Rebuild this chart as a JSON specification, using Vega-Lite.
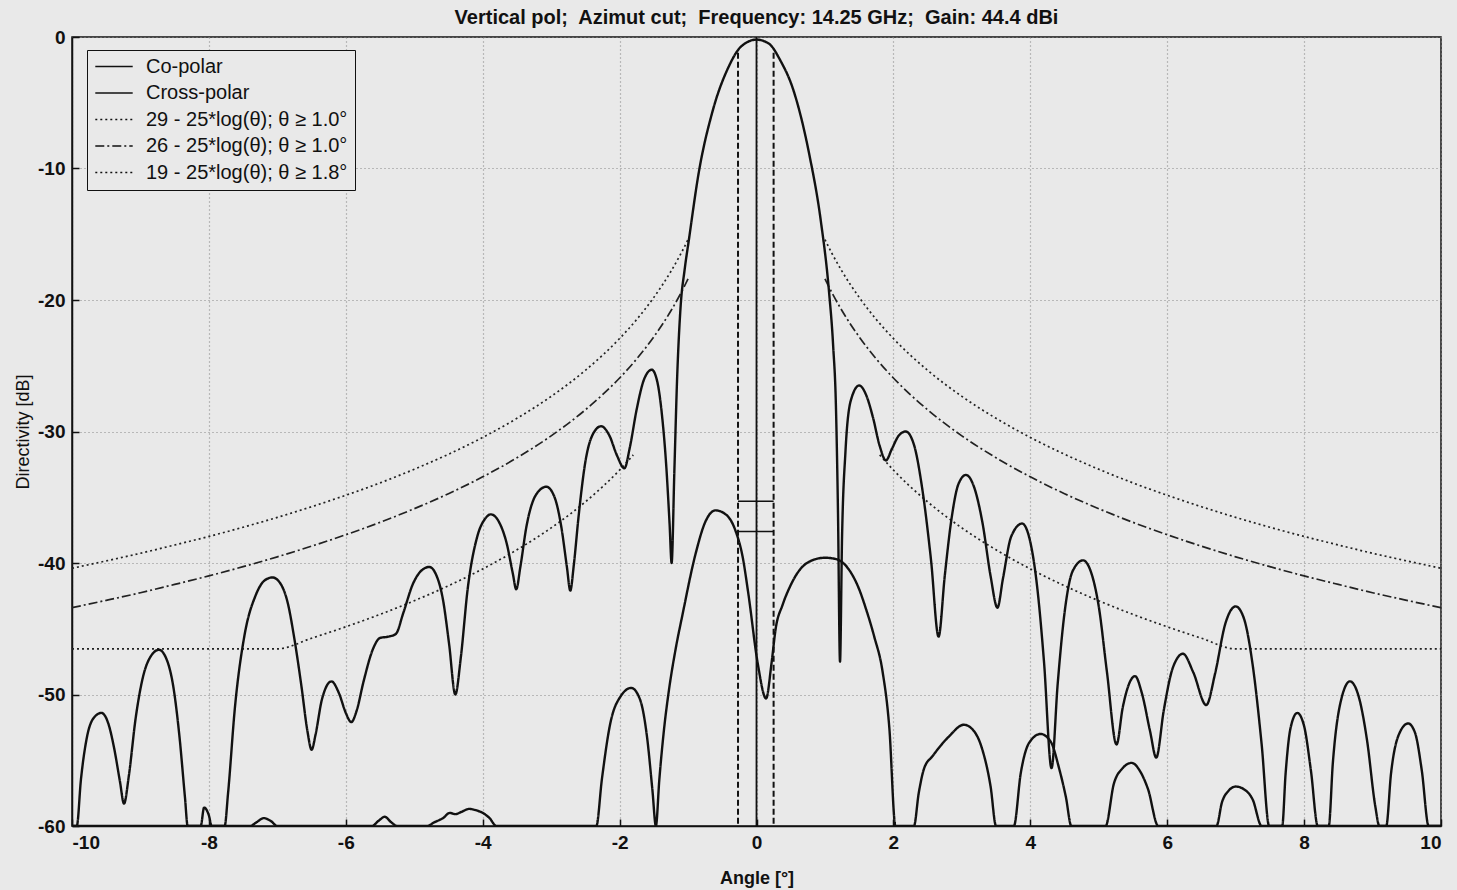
{
  "$schema": "https://vega.github.io/schema/vega-lite/v6.json",
  "width": 1369,
  "height": 789,
  "autosize": "none",
  "padding": {"left": 72, "top": 37, "right": 16, "bottom": 64},
  "background": "#e9e9e9",
  "title": {"text": "Vertical pol;\u00a0 Azimut cut;\u00a0 Frequency: 14.25 GHz;\u00a0 Gain: 44.4 dBi", "font": "Liberation Sans", "fontSize": 20, "fontWeight": "bold", "color": "#111", "offset": 0, "anchor": "middle"},
  "config": {
    "view": {"stroke": "#111", "strokeWidth": 1.5},
    "axis": {"labelFont": "Liberation Sans", "labelFontSize": 19, "labelFontWeight": "bold", "labelColor": "#111", "titleFont": "Liberation Sans", "titleFontSize": 18, "titleFontWeight": "normal", "titleColor": "#111", "domainColor": "#111", "domainWidth": 1.5, "tickColor": "#111", "tickSize": -7, "tickWidth": 1.5, "gridColor": "#888", "gridDash": [1, 3], "gridWidth": 1.2, "labelExpr": "'' + datum.value"}
  },
  "datasets": {
    "markers": [
      {"angle": 0, "top": 0, "bottom": -60, "kind": "solid"},
      {"angle": -0.27, "top": -1.2, "bottom": -60, "kind": "dashed"},
      {"angle": 0.25, "top": -1.2, "bottom": -60, "kind": "dashed"}
    ],
    "levels": [
      {"from": -0.27, "to": 0.25, "level": -35.3},
      {"from": -0.27, "to": 0.25, "level": -37.6}
    ]
  },
  "layer": [
    {
      "data": {"values": [
        {"series": "29 - 25*log(θ); θ ≥ 1.0°", "part": "L", "angle": -10, "dB": -40.4},
        {"series": "29 - 25*log(θ); θ ≥ 1.0°", "part": "L", "angle": -9.5, "dB": -39.84},
        {"series": "29 - 25*log(θ); θ ≥ 1.0°", "part": "L", "angle": -9, "dB": -39.26},
        {"series": "29 - 25*log(θ); θ ≥ 1.0°", "part": "L", "angle": -8.5, "dB": -38.63},
        {"series": "29 - 25*log(θ); θ ≥ 1.0°", "part": "L", "angle": -8, "dB": -37.98},
        {"series": "29 - 25*log(θ); θ ≥ 1.0°", "part": "L", "angle": -7.5, "dB": -37.28},
        {"series": "29 - 25*log(θ); θ ≥ 1.0°", "part": "L", "angle": -7, "dB": -36.53},
        {"series": "29 - 25*log(θ); θ ≥ 1.0°", "part": "L", "angle": -6.5, "dB": -35.72},
        {"series": "29 - 25*log(θ); θ ≥ 1.0°", "part": "L", "angle": -6, "dB": -34.85},
        {"series": "29 - 25*log(θ); θ ≥ 1.0°", "part": "L", "angle": -5.5, "dB": -33.91},
        {"series": "29 - 25*log(θ); θ ≥ 1.0°", "part": "L", "angle": -5, "dB": -32.87},
        {"series": "29 - 25*log(θ); θ ≥ 1.0°", "part": "L", "angle": -4.5, "dB": -31.73},
        {"series": "29 - 25*log(θ); θ ≥ 1.0°", "part": "L", "angle": -4, "dB": -30.45},
        {"series": "29 - 25*log(θ); θ ≥ 1.0°", "part": "L", "angle": -3.5, "dB": -29.0},
        {"series": "29 - 25*log(θ); θ ≥ 1.0°", "part": "L", "angle": -3, "dB": -27.33},
        {"series": "29 - 25*log(θ); θ ≥ 1.0°", "part": "L", "angle": -2.5, "dB": -25.35},
        {"series": "29 - 25*log(θ); θ ≥ 1.0°", "part": "L", "angle": -2, "dB": -22.93},
        {"series": "29 - 25*log(θ); θ ≥ 1.0°", "part": "L", "angle": -1.75, "dB": -21.48},
        {"series": "29 - 25*log(θ); θ ≥ 1.0°", "part": "L", "angle": -1.5, "dB": -19.8},
        {"series": "29 - 25*log(θ); θ ≥ 1.0°", "part": "L", "angle": -1.25, "dB": -17.82},
        {"series": "29 - 25*log(θ); θ ≥ 1.0°", "part": "L", "angle": -1.1, "dB": -16.43},
        {"series": "29 - 25*log(θ); θ ≥ 1.0°", "part": "L", "angle": -1, "dB": -15.4},
        {"series": "29 - 25*log(θ); θ ≥ 1.0°", "part": "R", "angle": 1, "dB": -15.4},
        {"series": "29 - 25*log(θ); θ ≥ 1.0°", "part": "R", "angle": 1.1, "dB": -16.43},
        {"series": "29 - 25*log(θ); θ ≥ 1.0°", "part": "R", "angle": 1.25, "dB": -17.82},
        {"series": "29 - 25*log(θ); θ ≥ 1.0°", "part": "R", "angle": 1.5, "dB": -19.8},
        {"series": "29 - 25*log(θ); θ ≥ 1.0°", "part": "R", "angle": 1.75, "dB": -21.48},
        {"series": "29 - 25*log(θ); θ ≥ 1.0°", "part": "R", "angle": 2, "dB": -22.93},
        {"series": "29 - 25*log(θ); θ ≥ 1.0°", "part": "R", "angle": 2.5, "dB": -25.35},
        {"series": "29 - 25*log(θ); θ ≥ 1.0°", "part": "R", "angle": 3, "dB": -27.33},
        {"series": "29 - 25*log(θ); θ ≥ 1.0°", "part": "R", "angle": 3.5, "dB": -29.0},
        {"series": "29 - 25*log(θ); θ ≥ 1.0°", "part": "R", "angle": 4, "dB": -30.45},
        {"series": "29 - 25*log(θ); θ ≥ 1.0°", "part": "R", "angle": 4.5, "dB": -31.73},
        {"series": "29 - 25*log(θ); θ ≥ 1.0°", "part": "R", "angle": 5, "dB": -32.87},
        {"series": "29 - 25*log(θ); θ ≥ 1.0°", "part": "R", "angle": 5.5, "dB": -33.91},
        {"series": "29 - 25*log(θ); θ ≥ 1.0°", "part": "R", "angle": 6, "dB": -34.85},
        {"series": "29 - 25*log(θ); θ ≥ 1.0°", "part": "R", "angle": 6.5, "dB": -35.72},
        {"series": "29 - 25*log(θ); θ ≥ 1.0°", "part": "R", "angle": 7, "dB": -36.53},
        {"series": "29 - 25*log(θ); θ ≥ 1.0°", "part": "R", "angle": 7.5, "dB": -37.28},
        {"series": "29 - 25*log(θ); θ ≥ 1.0°", "part": "R", "angle": 8, "dB": -37.98},
        {"series": "29 - 25*log(θ); θ ≥ 1.0°", "part": "R", "angle": 8.5, "dB": -38.63},
        {"series": "29 - 25*log(θ); θ ≥ 1.0°", "part": "R", "angle": 9, "dB": -39.26},
        {"series": "29 - 25*log(θ); θ ≥ 1.0°", "part": "R", "angle": 9.5, "dB": -39.84},
        {"series": "29 - 25*log(θ); θ ≥ 1.0°", "part": "R", "angle": 10, "dB": -40.4},
        {"series": "26 - 25*log(θ); θ ≥ 1.0°", "part": "L", "angle": -10, "dB": -43.4},
        {"series": "26 - 25*log(θ); θ ≥ 1.0°", "part": "L", "angle": -9.5, "dB": -42.84},
        {"series": "26 - 25*log(θ); θ ≥ 1.0°", "part": "L", "angle": -9, "dB": -42.26},
        {"series": "26 - 25*log(θ); θ ≥ 1.0°", "part": "L", "angle": -8.5, "dB": -41.63},
        {"series": "26 - 25*log(θ); θ ≥ 1.0°", "part": "L", "angle": -8, "dB": -40.98},
        {"series": "26 - 25*log(θ); θ ≥ 1.0°", "part": "L", "angle": -7.5, "dB": -40.28},
        {"series": "26 - 25*log(θ); θ ≥ 1.0°", "part": "L", "angle": -7, "dB": -39.53},
        {"series": "26 - 25*log(θ); θ ≥ 1.0°", "part": "L", "angle": -6.5, "dB": -38.72},
        {"series": "26 - 25*log(θ); θ ≥ 1.0°", "part": "L", "angle": -6, "dB": -37.85},
        {"series": "26 - 25*log(θ); θ ≥ 1.0°", "part": "L", "angle": -5.5, "dB": -36.91},
        {"series": "26 - 25*log(θ); θ ≥ 1.0°", "part": "L", "angle": -5, "dB": -35.87},
        {"series": "26 - 25*log(θ); θ ≥ 1.0°", "part": "L", "angle": -4.5, "dB": -34.73},
        {"series": "26 - 25*log(θ); θ ≥ 1.0°", "part": "L", "angle": -4, "dB": -33.45},
        {"series": "26 - 25*log(θ); θ ≥ 1.0°", "part": "L", "angle": -3.5, "dB": -32.0},
        {"series": "26 - 25*log(θ); θ ≥ 1.0°", "part": "L", "angle": -3, "dB": -30.33},
        {"series": "26 - 25*log(θ); θ ≥ 1.0°", "part": "L", "angle": -2.5, "dB": -28.35},
        {"series": "26 - 25*log(θ); θ ≥ 1.0°", "part": "L", "angle": -2, "dB": -25.93},
        {"series": "26 - 25*log(θ); θ ≥ 1.0°", "part": "L", "angle": -1.75, "dB": -24.48},
        {"series": "26 - 25*log(θ); θ ≥ 1.0°", "part": "L", "angle": -1.5, "dB": -22.8},
        {"series": "26 - 25*log(θ); θ ≥ 1.0°", "part": "L", "angle": -1.25, "dB": -20.82},
        {"series": "26 - 25*log(θ); θ ≥ 1.0°", "part": "L", "angle": -1.1, "dB": -19.43},
        {"series": "26 - 25*log(θ); θ ≥ 1.0°", "part": "L", "angle": -1, "dB": -18.4},
        {"series": "26 - 25*log(θ); θ ≥ 1.0°", "part": "R", "angle": 1, "dB": -18.4},
        {"series": "26 - 25*log(θ); θ ≥ 1.0°", "part": "R", "angle": 1.1, "dB": -19.43},
        {"series": "26 - 25*log(θ); θ ≥ 1.0°", "part": "R", "angle": 1.25, "dB": -20.82},
        {"series": "26 - 25*log(θ); θ ≥ 1.0°", "part": "R", "angle": 1.5, "dB": -22.8},
        {"series": "26 - 25*log(θ); θ ≥ 1.0°", "part": "R", "angle": 1.75, "dB": -24.48},
        {"series": "26 - 25*log(θ); θ ≥ 1.0°", "part": "R", "angle": 2, "dB": -25.93},
        {"series": "26 - 25*log(θ); θ ≥ 1.0°", "part": "R", "angle": 2.5, "dB": -28.35},
        {"series": "26 - 25*log(θ); θ ≥ 1.0°", "part": "R", "angle": 3, "dB": -30.33},
        {"series": "26 - 25*log(θ); θ ≥ 1.0°", "part": "R", "angle": 3.5, "dB": -32.0},
        {"series": "26 - 25*log(θ); θ ≥ 1.0°", "part": "R", "angle": 4, "dB": -33.45},
        {"series": "26 - 25*log(θ); θ ≥ 1.0°", "part": "R", "angle": 4.5, "dB": -34.73},
        {"series": "26 - 25*log(θ); θ ≥ 1.0°", "part": "R", "angle": 5, "dB": -35.87},
        {"series": "26 - 25*log(θ); θ ≥ 1.0°", "part": "R", "angle": 5.5, "dB": -36.91},
        {"series": "26 - 25*log(θ); θ ≥ 1.0°", "part": "R", "angle": 6, "dB": -37.85},
        {"series": "26 - 25*log(θ); θ ≥ 1.0°", "part": "R", "angle": 6.5, "dB": -38.72},
        {"series": "26 - 25*log(θ); θ ≥ 1.0°", "part": "R", "angle": 7, "dB": -39.53},
        {"series": "26 - 25*log(θ); θ ≥ 1.0°", "part": "R", "angle": 7.5, "dB": -40.28},
        {"series": "26 - 25*log(θ); θ ≥ 1.0°", "part": "R", "angle": 8, "dB": -40.98},
        {"series": "26 - 25*log(θ); θ ≥ 1.0°", "part": "R", "angle": 8.5, "dB": -41.63},
        {"series": "26 - 25*log(θ); θ ≥ 1.0°", "part": "R", "angle": 9, "dB": -42.26},
        {"series": "26 - 25*log(θ); θ ≥ 1.0°", "part": "R", "angle": 9.5, "dB": -42.84},
        {"series": "26 - 25*log(θ); θ ≥ 1.0°", "part": "R", "angle": 10, "dB": -43.4},
        {"series": "19 - 25*log(θ); θ ≥ 1.8°", "part": "L", "angle": -10, "dB": -46.53},
        {"series": "19 - 25*log(θ); θ ≥ 1.8°", "part": "L", "angle": -9, "dB": -46.53},
        {"series": "19 - 25*log(θ); θ ≥ 1.8°", "part": "L", "angle": -8, "dB": -46.53},
        {"series": "19 - 25*log(θ); θ ≥ 1.8°", "part": "L", "angle": -7, "dB": -46.53},
        {"series": "19 - 25*log(θ); θ ≥ 1.8°", "part": "L", "angle": -6.5, "dB": -45.72},
        {"series": "19 - 25*log(θ); θ ≥ 1.8°", "part": "L", "angle": -6, "dB": -44.85},
        {"series": "19 - 25*log(θ); θ ≥ 1.8°", "part": "L", "angle": -5.5, "dB": -43.91},
        {"series": "19 - 25*log(θ); θ ≥ 1.8°", "part": "L", "angle": -5, "dB": -42.87},
        {"series": "19 - 25*log(θ); θ ≥ 1.8°", "part": "L", "angle": -4.5, "dB": -41.73},
        {"series": "19 - 25*log(θ); θ ≥ 1.8°", "part": "L", "angle": -4, "dB": -40.45},
        {"series": "19 - 25*log(θ); θ ≥ 1.8°", "part": "L", "angle": -3.5, "dB": -39.0},
        {"series": "19 - 25*log(θ); θ ≥ 1.8°", "part": "L", "angle": -3, "dB": -37.33},
        {"series": "19 - 25*log(θ); θ ≥ 1.8°", "part": "L", "angle": -2.5, "dB": -35.35},
        {"series": "19 - 25*log(θ); θ ≥ 1.8°", "part": "L", "angle": -2, "dB": -32.93},
        {"series": "19 - 25*log(θ); θ ≥ 1.8°", "part": "L", "angle": -1.8, "dB": -31.78},
        {"series": "19 - 25*log(θ); θ ≥ 1.8°", "part": "R", "angle": 1.8, "dB": -31.78},
        {"series": "19 - 25*log(θ); θ ≥ 1.8°", "part": "R", "angle": 2, "dB": -32.93},
        {"series": "19 - 25*log(θ); θ ≥ 1.8°", "part": "R", "angle": 2.5, "dB": -35.35},
        {"series": "19 - 25*log(θ); θ ≥ 1.8°", "part": "R", "angle": 3, "dB": -37.33},
        {"series": "19 - 25*log(θ); θ ≥ 1.8°", "part": "R", "angle": 3.5, "dB": -39.0},
        {"series": "19 - 25*log(θ); θ ≥ 1.8°", "part": "R", "angle": 4, "dB": -40.45},
        {"series": "19 - 25*log(θ); θ ≥ 1.8°", "part": "R", "angle": 4.5, "dB": -41.73},
        {"series": "19 - 25*log(θ); θ ≥ 1.8°", "part": "R", "angle": 5, "dB": -42.87},
        {"series": "19 - 25*log(θ); θ ≥ 1.8°", "part": "R", "angle": 5.5, "dB": -43.91},
        {"series": "19 - 25*log(θ); θ ≥ 1.8°", "part": "R", "angle": 6, "dB": -44.85},
        {"series": "19 - 25*log(θ); θ ≥ 1.8°", "part": "R", "angle": 6.5, "dB": -45.72},
        {"series": "19 - 25*log(θ); θ ≥ 1.8°", "part": "R", "angle": 7, "dB": -46.53},
        {"series": "19 - 25*log(θ); θ ≥ 1.8°", "part": "R", "angle": 8, "dB": -46.53},
        {"series": "19 - 25*log(θ); θ ≥ 1.8°", "part": "R", "angle": 9, "dB": -46.53},
        {"series": "19 - 25*log(θ); θ ≥ 1.8°", "part": "R", "angle": 10, "dB": -46.53}
      ]},
      "mark": {"type": "line", "color": "#222", "strokeWidth": 1.7, "interpolate": "monotone", "clip": true},
      "encoding": {
        "x": {"field": "angle", "type": "quantitative", "scale": {"domain": [-10, 10], "nice": false}, "axis": {"values": [-10, -8, -6, -4, -2, 0, 2, 4, 6, 8, 10], "title": "Angle [°]", "titleFontWeight": "bold", "labelPadding": 14, "titlePadding": 17}},
        "y": {"field": "dB", "type": "quantitative", "scale": {"domain": [-60, 0], "nice": false}, "axis": {"values": [-60, -50, -40, -30, -20, -10, 0], "title": "Directivity [dB]", "labelPadding": 14, "titlePadding": 5}},
        "strokeDash": {"field": "series", "type": "nominal",
          "scale": {"domain": ["Co-polar", "Cross-polar", "29 - 25*log(θ); θ ≥ 1.0°", "26 - 25*log(θ); θ ≥ 1.0°", "19 - 25*log(θ); θ ≥ 1.8°"], "range": [[1, 0], [1, 0], [2, 3], [9, 3, 2, 3], [2, 3]]},
          "legend": {"orient": "none", "legendX": 15, "legendY": 13, "title": null, "symbolType": "stroke", "symbolSize": 1400, "symbolStrokeWidth": 1.6, "symbolStrokeColor": "#111", "labelFont": "Liberation Sans", "labelFontSize": 20, "labelLimit": 500, "labelColor": "#111", "strokeColor": "#111", "fillColor": "#e9e9e9", "padding": 7, "rowPadding": 5.5, "clipHeight": 19, "labelOffset": 12}},
        "detail": {"field": "part"}
      }
    },
    {
      "data": {"values": [
        {"series": "Co-polar", "part": "A", "angle": -10, "dB": -60},
        {"series": "Co-polar", "part": "A", "angle": -9.93, "dB": -60},
        {"series": "Co-polar", "part": "A", "angle": -9.87, "dB": -56.5},
        {"series": "Co-polar", "part": "A", "angle": -9.78, "dB": -53.2},
        {"series": "Co-polar", "part": "A", "angle": -9.67, "dB": -51.7},
        {"series": "Co-polar", "part": "A", "angle": -9.57, "dB": -51.4},
        {"series": "Co-polar", "part": "A", "angle": -9.47, "dB": -52.2},
        {"series": "Co-polar", "part": "A", "angle": -9.38, "dB": -54.2},
        {"series": "Co-polar", "part": "A", "angle": -9.3, "dB": -56.6},
        {"series": "Co-polar", "part": "A", "angle": -9.24, "dB": -58.3},
        {"series": "Co-polar", "part": "A", "angle": -9.17, "dB": -56.2},
        {"series": "Co-polar", "part": "A", "angle": -9.07, "dB": -51.8},
        {"series": "Co-polar", "part": "A", "angle": -8.96, "dB": -48.6},
        {"series": "Co-polar", "part": "A", "angle": -8.85, "dB": -47.1},
        {"series": "Co-polar", "part": "A", "angle": -8.73, "dB": -46.6},
        {"series": "Co-polar", "part": "A", "angle": -8.62, "dB": -47.3},
        {"series": "Co-polar", "part": "A", "angle": -8.52, "dB": -49.4},
        {"series": "Co-polar", "part": "A", "angle": -8.43, "dB": -53.2},
        {"series": "Co-polar", "part": "A", "angle": -8.35, "dB": -57.8},
        {"series": "Co-polar", "part": "A", "angle": -8.31, "dB": -60},
        {"series": "Co-polar", "part": "A", "angle": -7.77, "dB": -60},
        {"series": "Co-polar", "part": "A", "angle": -7.72, "dB": -57.5},
        {"series": "Co-polar", "part": "A", "angle": -7.62, "dB": -51},
        {"series": "Co-polar", "part": "A", "angle": -7.48, "dB": -45.5},
        {"series": "Co-polar", "part": "A", "angle": -7.32, "dB": -42.5},
        {"series": "Co-polar", "part": "A", "angle": -7.18, "dB": -41.3},
        {"series": "Co-polar", "part": "A", "angle": -7.07, "dB": -41.1},
        {"series": "Co-polar", "part": "A", "angle": -6.95, "dB": -41.6},
        {"series": "Co-polar", "part": "A", "angle": -6.85, "dB": -43},
        {"series": "Co-polar", "part": "A", "angle": -6.75, "dB": -45.8},
        {"series": "Co-polar", "part": "A", "angle": -6.65, "dB": -49.3},
        {"series": "Co-polar", "part": "A", "angle": -6.56, "dB": -52.8},
        {"series": "Co-polar", "part": "A", "angle": -6.5, "dB": -54.2},
        {"series": "Co-polar", "part": "A", "angle": -6.44, "dB": -53},
        {"series": "Co-polar", "part": "A", "angle": -6.35, "dB": -50.4},
        {"series": "Co-polar", "part": "A", "angle": -6.21, "dB": -49},
        {"series": "Co-polar", "part": "A", "angle": -6.1, "dB": -49.9},
        {"series": "Co-polar", "part": "A", "angle": -6.0, "dB": -51.4},
        {"series": "Co-polar", "part": "A", "angle": -5.92, "dB": -52.1},
        {"series": "Co-polar", "part": "A", "angle": -5.84, "dB": -51.2},
        {"series": "Co-polar", "part": "A", "angle": -5.74, "dB": -49},
        {"series": "Co-polar", "part": "A", "angle": -5.6, "dB": -46.5},
        {"series": "Co-polar", "part": "A", "angle": -5.5, "dB": -45.7},
        {"series": "Co-polar", "part": "A", "angle": -5.38, "dB": -45.6},
        {"series": "Co-polar", "part": "A", "angle": -5.27, "dB": -45.4},
        {"series": "Co-polar", "part": "A", "angle": -5.16, "dB": -43.8},
        {"series": "Co-polar", "part": "A", "angle": -5.02, "dB": -41.6},
        {"series": "Co-polar", "part": "A", "angle": -4.9, "dB": -40.6},
        {"series": "Co-polar", "part": "A", "angle": -4.78, "dB": -40.3},
        {"series": "Co-polar", "part": "A", "angle": -4.68, "dB": -40.9},
        {"series": "Co-polar", "part": "A", "angle": -4.58, "dB": -42.8},
        {"series": "Co-polar", "part": "A", "angle": -4.49, "dB": -46.2},
        {"series": "Co-polar", "part": "A", "angle": -4.4, "dB": -50},
        {"series": "Co-polar", "part": "A", "angle": -4.32, "dB": -47.2},
        {"series": "Co-polar", "part": "A", "angle": -4.22, "dB": -42},
        {"series": "Co-polar", "part": "A", "angle": -4.08, "dB": -38},
        {"series": "Co-polar", "part": "A", "angle": -3.96, "dB": -36.6},
        {"series": "Co-polar", "part": "A", "angle": -3.88, "dB": -36.3},
        {"series": "Co-polar", "part": "A", "angle": -3.76, "dB": -36.9},
        {"series": "Co-polar", "part": "A", "angle": -3.65, "dB": -38.5},
        {"series": "Co-polar", "part": "A", "angle": -3.56, "dB": -40.8},
        {"series": "Co-polar", "part": "A", "angle": -3.51, "dB": -42},
        {"series": "Co-polar", "part": "A", "angle": -3.45, "dB": -40.3},
        {"series": "Co-polar", "part": "A", "angle": -3.36, "dB": -37.2},
        {"series": "Co-polar", "part": "A", "angle": -3.22, "dB": -34.8},
        {"series": "Co-polar", "part": "A", "angle": -3.07, "dB": -34.2},
        {"series": "Co-polar", "part": "A", "angle": -2.95, "dB": -35},
        {"series": "Co-polar", "part": "A", "angle": -2.85, "dB": -37.3},
        {"series": "Co-polar", "part": "A", "angle": -2.77, "dB": -40.3},
        {"series": "Co-polar", "part": "A", "angle": -2.72, "dB": -42.1},
        {"series": "Co-polar", "part": "A", "angle": -2.67, "dB": -40.2},
        {"series": "Co-polar", "part": "A", "angle": -2.6, "dB": -36.5},
        {"series": "Co-polar", "part": "A", "angle": -2.5, "dB": -32.3},
        {"series": "Co-polar", "part": "A", "angle": -2.38, "dB": -30.1},
        {"series": "Co-polar", "part": "A", "angle": -2.27, "dB": -29.6},
        {"series": "Co-polar", "part": "A", "angle": -2.15, "dB": -30.3},
        {"series": "Co-polar", "part": "A", "angle": -2.04, "dB": -31.8},
        {"series": "Co-polar", "part": "A", "angle": -1.93, "dB": -32.8},
        {"series": "Co-polar", "part": "A", "angle": -1.85, "dB": -31.2},
        {"series": "Co-polar", "part": "A", "angle": -1.75, "dB": -28.3},
        {"series": "Co-polar", "part": "A", "angle": -1.64, "dB": -26},
        {"series": "Co-polar", "part": "A", "angle": -1.53, "dB": -25.3},
        {"series": "Co-polar", "part": "A", "angle": -1.45, "dB": -26.2},
        {"series": "Co-polar", "part": "A", "angle": -1.38, "dB": -28.8},
        {"series": "Co-polar", "part": "A", "angle": -1.32, "dB": -32.5},
        {"series": "Co-polar", "part": "A", "angle": -1.27, "dB": -37},
        {"series": "Co-polar", "part": "A", "angle": -1.24, "dB": -40},
        {"series": "Co-polar", "part": "A", "angle": -1.2, "dB": -33},
        {"series": "Co-polar", "part": "A", "angle": -1.16, "dB": -26},
        {"series": "Co-polar", "part": "A", "angle": -1.11, "dB": -20.6},
        {"series": "Co-polar", "part": "A", "angle": -1.05, "dB": -17.7},
        {"series": "Co-polar", "part": "A", "angle": -0.99, "dB": -15.5},
        {"series": "Co-polar", "part": "A", "angle": -0.84, "dB": -10.2},
        {"series": "Co-polar", "part": "A", "angle": -0.65, "dB": -5.8},
        {"series": "Co-polar", "part": "A", "angle": -0.41, "dB": -2.3},
        {"series": "Co-polar", "part": "A", "angle": -0.22, "dB": -0.7},
        {"series": "Co-polar", "part": "A", "angle": 0, "dB": -0.2},
        {"series": "Co-polar", "part": "A", "angle": 0.18, "dB": -0.5},
        {"series": "Co-polar", "part": "A", "angle": 0.35, "dB": -1.8},
        {"series": "Co-polar", "part": "A", "angle": 0.53, "dB": -3.9},
        {"series": "Co-polar", "part": "A", "angle": 0.77, "dB": -8.9},
        {"series": "Co-polar", "part": "A", "angle": 0.94, "dB": -14},
        {"series": "Co-polar", "part": "A", "angle": 1.06, "dB": -19.4},
        {"series": "Co-polar", "part": "A", "angle": 1.12, "dB": -23.5},
        {"series": "Co-polar", "part": "A", "angle": 1.16, "dB": -28},
        {"series": "Co-polar", "part": "A", "angle": 1.19, "dB": -36},
        {"series": "Co-polar", "part": "A", "angle": 1.22, "dB": -47.5},
        {"series": "Co-polar", "part": "A", "angle": 1.25, "dB": -38},
        {"series": "Co-polar", "part": "A", "angle": 1.3, "dB": -31.5},
        {"series": "Co-polar", "part": "A", "angle": 1.38, "dB": -27.6},
        {"series": "Co-polar", "part": "A", "angle": 1.5, "dB": -26.5},
        {"series": "Co-polar", "part": "A", "angle": 1.6, "dB": -27.2},
        {"series": "Co-polar", "part": "A", "angle": 1.7, "dB": -28.9},
        {"series": "Co-polar", "part": "A", "angle": 1.8, "dB": -31.1},
        {"series": "Co-polar", "part": "A", "angle": 1.89, "dB": -32.2},
        {"series": "Co-polar", "part": "A", "angle": 1.98, "dB": -31.3},
        {"series": "Co-polar", "part": "A", "angle": 2.08, "dB": -30.3},
        {"series": "Co-polar", "part": "A", "angle": 2.18, "dB": -30},
        {"series": "Co-polar", "part": "A", "angle": 2.3, "dB": -31},
        {"series": "Co-polar", "part": "A", "angle": 2.42, "dB": -34.3},
        {"series": "Co-polar", "part": "A", "angle": 2.55, "dB": -39.8},
        {"series": "Co-polar", "part": "A", "angle": 2.66, "dB": -45.6},
        {"series": "Co-polar", "part": "A", "angle": 2.75, "dB": -41},
        {"series": "Co-polar", "part": "A", "angle": 2.85, "dB": -36.6},
        {"series": "Co-polar", "part": "A", "angle": 2.95, "dB": -34},
        {"series": "Co-polar", "part": "A", "angle": 3.06, "dB": -33.3},
        {"series": "Co-polar", "part": "A", "angle": 3.17, "dB": -34.1},
        {"series": "Co-polar", "part": "A", "angle": 3.3, "dB": -36.9},
        {"series": "Co-polar", "part": "A", "angle": 3.42, "dB": -41},
        {"series": "Co-polar", "part": "A", "angle": 3.52, "dB": -43.4},
        {"series": "Co-polar", "part": "A", "angle": 3.6, "dB": -41.2},
        {"series": "Co-polar", "part": "A", "angle": 3.72, "dB": -38},
        {"series": "Co-polar", "part": "A", "angle": 3.88, "dB": -37},
        {"series": "Co-polar", "part": "A", "angle": 4, "dB": -38.4},
        {"series": "Co-polar", "part": "A", "angle": 4.1, "dB": -41.8},
        {"series": "Co-polar", "part": "A", "angle": 4.2, "dB": -47.5},
        {"series": "Co-polar", "part": "A", "angle": 4.31, "dB": -55.6},
        {"series": "Co-polar", "part": "A", "angle": 4.4, "dB": -49.2},
        {"series": "Co-polar", "part": "A", "angle": 4.5, "dB": -43.8},
        {"series": "Co-polar", "part": "A", "angle": 4.62, "dB": -40.6},
        {"series": "Co-polar", "part": "A", "angle": 4.77, "dB": -39.8},
        {"series": "Co-polar", "part": "A", "angle": 4.9, "dB": -40.9},
        {"series": "Co-polar", "part": "A", "angle": 5, "dB": -43.3},
        {"series": "Co-polar", "part": "A", "angle": 5.12, "dB": -48.3},
        {"series": "Co-polar", "part": "A", "angle": 5.26, "dB": -53.8},
        {"series": "Co-polar", "part": "A", "angle": 5.35, "dB": -51},
        {"series": "Co-polar", "part": "A", "angle": 5.45, "dB": -49.1},
        {"series": "Co-polar", "part": "A", "angle": 5.53, "dB": -48.6},
        {"series": "Co-polar", "part": "A", "angle": 5.63, "dB": -49.9},
        {"series": "Co-polar", "part": "A", "angle": 5.75, "dB": -52.8},
        {"series": "Co-polar", "part": "A", "angle": 5.84, "dB": -54.8},
        {"series": "Co-polar", "part": "A", "angle": 5.95, "dB": -51.2},
        {"series": "Co-polar", "part": "A", "angle": 6.08, "dB": -48},
        {"series": "Co-polar", "part": "A", "angle": 6.23, "dB": -46.9},
        {"series": "Co-polar", "part": "A", "angle": 6.38, "dB": -48.3},
        {"series": "Co-polar", "part": "A", "angle": 6.57, "dB": -50.8},
        {"series": "Co-polar", "part": "A", "angle": 6.7, "dB": -48.4},
        {"series": "Co-polar", "part": "A", "angle": 6.85, "dB": -44.6},
        {"series": "Co-polar", "part": "A", "angle": 7, "dB": -43.3},
        {"series": "Co-polar", "part": "A", "angle": 7.12, "dB": -44.2},
        {"series": "Co-polar", "part": "A", "angle": 7.25, "dB": -47.8},
        {"series": "Co-polar", "part": "A", "angle": 7.38, "dB": -53.8},
        {"series": "Co-polar", "part": "A", "angle": 7.49, "dB": -60},
        {"series": "Co-polar", "part": "A", "angle": 7.68, "dB": -60},
        {"series": "Co-polar", "part": "A", "angle": 7.73, "dB": -56},
        {"series": "Co-polar", "part": "A", "angle": 7.8, "dB": -52.6},
        {"series": "Co-polar", "part": "A", "angle": 7.9, "dB": -51.4},
        {"series": "Co-polar", "part": "A", "angle": 8, "dB": -52.4},
        {"series": "Co-polar", "part": "A", "angle": 8.1, "dB": -55.8},
        {"series": "Co-polar", "part": "A", "angle": 8.2, "dB": -60},
        {"series": "Co-polar", "part": "A", "angle": 8.36, "dB": -60},
        {"series": "Co-polar", "part": "A", "angle": 8.42, "dB": -55.2},
        {"series": "Co-polar", "part": "A", "angle": 8.52, "dB": -50.9},
        {"series": "Co-polar", "part": "A", "angle": 8.67, "dB": -49},
        {"series": "Co-polar", "part": "A", "angle": 8.8, "dB": -50.2},
        {"series": "Co-polar", "part": "A", "angle": 8.92, "dB": -53.5},
        {"series": "Co-polar", "part": "A", "angle": 9.04, "dB": -58.5},
        {"series": "Co-polar", "part": "A", "angle": 9.1, "dB": -60},
        {"series": "Co-polar", "part": "A", "angle": 9.2, "dB": -60},
        {"series": "Co-polar", "part": "A", "angle": 9.27, "dB": -56},
        {"series": "Co-polar", "part": "A", "angle": 9.38, "dB": -53.1},
        {"series": "Co-polar", "part": "A", "angle": 9.52, "dB": -52.2},
        {"series": "Co-polar", "part": "A", "angle": 9.62, "dB": -52.9},
        {"series": "Co-polar", "part": "A", "angle": 9.72, "dB": -55.8},
        {"series": "Co-polar", "part": "A", "angle": 9.82, "dB": -60},
        {"series": "Co-polar", "part": "A", "angle": 10, "dB": -60},
        {"series": "Cross-polar", "part": "B", "angle": -10, "dB": -60},
        {"series": "Cross-polar", "part": "B", "angle": -8.12, "dB": -60},
        {"series": "Cross-polar", "part": "B", "angle": -8.07, "dB": -58.6},
        {"series": "Cross-polar", "part": "B", "angle": -8.0, "dB": -59.2},
        {"series": "Cross-polar", "part": "B", "angle": -7.96, "dB": -60},
        {"series": "Cross-polar", "part": "B", "angle": -7.4, "dB": -60},
        {"series": "Cross-polar", "part": "B", "angle": -7.3, "dB": -59.7},
        {"series": "Cross-polar", "part": "B", "angle": -7.2, "dB": -59.4},
        {"series": "Cross-polar", "part": "B", "angle": -7.1, "dB": -59.6},
        {"series": "Cross-polar", "part": "B", "angle": -7.0, "dB": -60},
        {"series": "Cross-polar", "part": "B", "angle": -5.62, "dB": -60},
        {"series": "Cross-polar", "part": "B", "angle": -5.52, "dB": -59.6},
        {"series": "Cross-polar", "part": "B", "angle": -5.43, "dB": -59.3},
        {"series": "Cross-polar", "part": "B", "angle": -5.34, "dB": -59.7},
        {"series": "Cross-polar", "part": "B", "angle": -5.25, "dB": -60},
        {"series": "Cross-polar", "part": "B", "angle": -4.82, "dB": -60},
        {"series": "Cross-polar", "part": "B", "angle": -4.7, "dB": -59.7},
        {"series": "Cross-polar", "part": "B", "angle": -4.58, "dB": -59.4},
        {"series": "Cross-polar", "part": "B", "angle": -4.48, "dB": -59.0},
        {"series": "Cross-polar", "part": "B", "angle": -4.4, "dB": -59.1},
        {"series": "Cross-polar", "part": "B", "angle": -4.3, "dB": -58.9},
        {"series": "Cross-polar", "part": "B", "angle": -4.2, "dB": -58.7},
        {"series": "Cross-polar", "part": "B", "angle": -4.1, "dB": -58.8},
        {"series": "Cross-polar", "part": "B", "angle": -4.0, "dB": -59.0},
        {"series": "Cross-polar", "part": "B", "angle": -3.9, "dB": -59.4},
        {"series": "Cross-polar", "part": "B", "angle": -3.8, "dB": -60},
        {"series": "Cross-polar", "part": "B", "angle": -2.34, "dB": -60},
        {"series": "Cross-polar", "part": "B", "angle": -2.26, "dB": -56.5},
        {"series": "Cross-polar", "part": "B", "angle": -2.14, "dB": -52.3},
        {"series": "Cross-polar", "part": "B", "angle": -1.98, "dB": -50.1},
        {"series": "Cross-polar", "part": "B", "angle": -1.83, "dB": -49.5},
        {"series": "Cross-polar", "part": "B", "angle": -1.7, "dB": -50.4},
        {"series": "Cross-polar", "part": "B", "angle": -1.6, "dB": -53.2},
        {"series": "Cross-polar", "part": "B", "angle": -1.52, "dB": -57.3},
        {"series": "Cross-polar", "part": "B", "angle": -1.47, "dB": -60},
        {"series": "Cross-polar", "part": "B", "angle": -1.42, "dB": -56.5},
        {"series": "Cross-polar", "part": "B", "angle": -1.35, "dB": -52.6},
        {"series": "Cross-polar", "part": "B", "angle": -1.28, "dB": -49.7},
        {"series": "Cross-polar", "part": "B", "angle": -1.18, "dB": -46.5},
        {"series": "Cross-polar", "part": "B", "angle": -1.08, "dB": -43.9},
        {"series": "Cross-polar", "part": "B", "angle": -0.89, "dB": -39.3},
        {"series": "Cross-polar", "part": "B", "angle": -0.75, "dB": -36.9},
        {"series": "Cross-polar", "part": "B", "angle": -0.6, "dB": -36},
        {"series": "Cross-polar", "part": "B", "angle": -0.45, "dB": -36.3},
        {"series": "Cross-polar", "part": "B", "angle": -0.31, "dB": -37.5},
        {"series": "Cross-polar", "part": "B", "angle": -0.2, "dB": -39.6},
        {"series": "Cross-polar", "part": "B", "angle": -0.12, "dB": -42.3},
        {"series": "Cross-polar", "part": "B", "angle": 0.02, "dB": -47.7},
        {"series": "Cross-polar", "part": "B", "angle": 0.14, "dB": -50.3},
        {"series": "Cross-polar", "part": "B", "angle": 0.22, "dB": -47.6},
        {"series": "Cross-polar", "part": "B", "angle": 0.28, "dB": -45},
        {"series": "Cross-polar", "part": "B", "angle": 0.38, "dB": -43.2},
        {"series": "Cross-polar", "part": "B", "angle": 0.48, "dB": -41.9},
        {"series": "Cross-polar", "part": "B", "angle": 0.62, "dB": -40.6},
        {"series": "Cross-polar", "part": "B", "angle": 0.77, "dB": -39.9},
        {"series": "Cross-polar", "part": "B", "angle": 1, "dB": -39.6},
        {"series": "Cross-polar", "part": "B", "angle": 1.16, "dB": -39.7},
        {"series": "Cross-polar", "part": "B", "angle": 1.35, "dB": -40.5},
        {"series": "Cross-polar", "part": "B", "angle": 1.5, "dB": -42},
        {"series": "Cross-polar", "part": "B", "angle": 1.6, "dB": -43.5},
        {"series": "Cross-polar", "part": "B", "angle": 1.72, "dB": -45.6},
        {"series": "Cross-polar", "part": "B", "angle": 1.84, "dB": -48.2},
        {"series": "Cross-polar", "part": "B", "angle": 1.94, "dB": -52.5},
        {"series": "Cross-polar", "part": "B", "angle": 2.03, "dB": -60},
        {"series": "Cross-polar", "part": "B", "angle": 2.3, "dB": -60},
        {"series": "Cross-polar", "part": "B", "angle": 2.37, "dB": -57.5},
        {"series": "Cross-polar", "part": "B", "angle": 2.45, "dB": -55.6},
        {"series": "Cross-polar", "part": "B", "angle": 2.57, "dB": -54.7},
        {"series": "Cross-polar", "part": "B", "angle": 2.81, "dB": -53.2},
        {"series": "Cross-polar", "part": "B", "angle": 3.03, "dB": -52.3},
        {"series": "Cross-polar", "part": "B", "angle": 3.18, "dB": -52.8},
        {"series": "Cross-polar", "part": "B", "angle": 3.3, "dB": -54.2},
        {"series": "Cross-polar", "part": "B", "angle": 3.42, "dB": -57},
        {"series": "Cross-polar", "part": "B", "angle": 3.5, "dB": -60},
        {"series": "Cross-polar", "part": "B", "angle": 3.76, "dB": -60},
        {"series": "Cross-polar", "part": "B", "angle": 3.86, "dB": -56},
        {"series": "Cross-polar", "part": "B", "angle": 3.98, "dB": -53.7},
        {"series": "Cross-polar", "part": "B", "angle": 4.15, "dB": -53},
        {"series": "Cross-polar", "part": "B", "angle": 4.3, "dB": -53.6},
        {"series": "Cross-polar", "part": "B", "angle": 4.42, "dB": -55.6},
        {"series": "Cross-polar", "part": "B", "angle": 4.52, "dB": -57.8},
        {"series": "Cross-polar", "part": "B", "angle": 4.6, "dB": -60},
        {"series": "Cross-polar", "part": "B", "angle": 5.1, "dB": -60},
        {"series": "Cross-polar", "part": "B", "angle": 5.22, "dB": -56.8},
        {"series": "Cross-polar", "part": "B", "angle": 5.35, "dB": -55.6},
        {"series": "Cross-polar", "part": "B", "angle": 5.48, "dB": -55.2},
        {"series": "Cross-polar", "part": "B", "angle": 5.6, "dB": -55.8},
        {"series": "Cross-polar", "part": "B", "angle": 5.72, "dB": -57.2},
        {"series": "Cross-polar", "part": "B", "angle": 5.87, "dB": -60},
        {"series": "Cross-polar", "part": "B", "angle": 6.72, "dB": -60},
        {"series": "Cross-polar", "part": "B", "angle": 6.8, "dB": -58.2},
        {"series": "Cross-polar", "part": "B", "angle": 6.9, "dB": -57.3},
        {"series": "Cross-polar", "part": "B", "angle": 7, "dB": -57},
        {"series": "Cross-polar", "part": "B", "angle": 7.12, "dB": -57.2},
        {"series": "Cross-polar", "part": "B", "angle": 7.25, "dB": -58},
        {"series": "Cross-polar", "part": "B", "angle": 7.38, "dB": -60},
        {"series": "Cross-polar", "part": "B", "angle": 10, "dB": -60}
      ]},
      "mark": {"type": "line", "color": "#111", "strokeWidth": 2.4, "interpolate": "monotone", "clip": true},
      "encoding": {
        "x": {"field": "angle", "type": "quantitative"},
        "y": {"field": "dB", "type": "quantitative"},
        "strokeDash": {"field": "series", "type": "nominal"},
        "detail": {"field": "part"}
      }
    },
    {
      "data": {"name": "markers"},
      "transform": [{"filter": "datum.kind == 'solid'"}],
      "mark": {"type": "rule", "color": "#111", "strokeWidth": 1.8},
      "encoding": {
        "x": {"field": "angle", "type": "quantitative"},
        "y": {"field": "top", "type": "quantitative"},
        "y2": {"field": "bottom"}
      }
    },
    {
      "data": {"name": "markers"},
      "transform": [{"filter": "datum.kind == 'dashed'"}],
      "mark": {"type": "rule", "color": "#111", "strokeWidth": 2, "strokeDash": [6, 3]},
      "encoding": {
        "x": {"field": "angle", "type": "quantitative"},
        "y": {"field": "top", "type": "quantitative"},
        "y2": {"field": "bottom"}
      }
    },
    {
      "data": {"name": "levels"},
      "mark": {"type": "rule", "color": "#111", "strokeWidth": 1.6},
      "encoding": {
        "x": {"field": "from", "type": "quantitative"},
        "x2": {"field": "to"},
        "y": {"field": "level", "type": "quantitative"}
      }
    }
  ]
}
